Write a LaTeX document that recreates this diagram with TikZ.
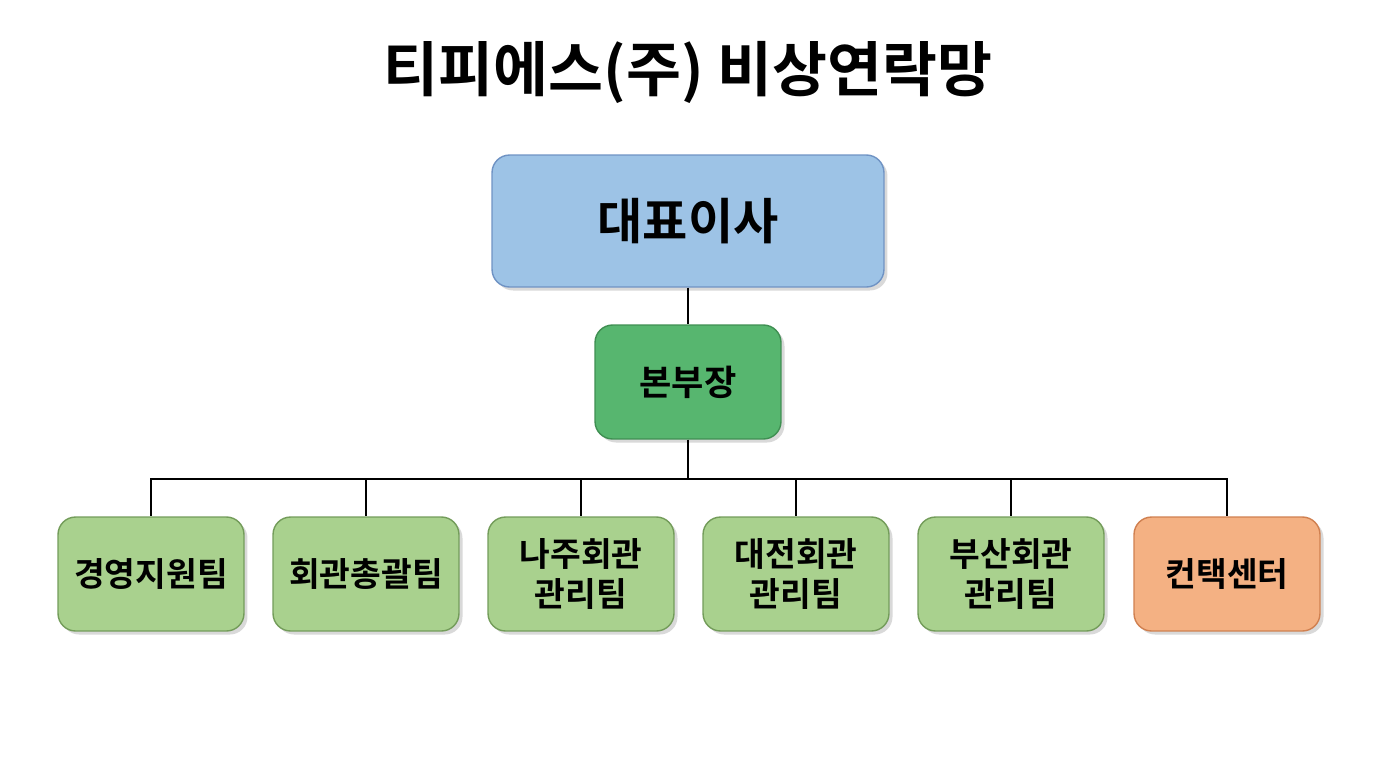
\documentclass[tikz,border=0pt]{standalone}
\usepackage{fontspec}
\setmainfont{Noto Sans CJK KR}[BoldFont={Noto Sans CJK KR Bold}]
\usetikzlibrary{positioning,shadows}
\definecolor{ceoblue}{HTML}{9DC3E6}
\definecolor{ceoline}{HTML}{6F93C4}
\definecolor{headgreen}{HTML}{57B66F}
\definecolor{headline}{HTML}{3F8F52}
\definecolor{teamgreen}{HTML}{A9D18E}
\definecolor{teamline}{HTML}{739C5A}
\definecolor{centerorange}{HTML}{F4B183}
\definecolor{centerline}{HTML}{D08050}
\tikzset{
  box/.style={draw, rounded corners=10pt, line width=0.8pt, align=center,
    font=\bfseries, drop shadow={shadow xshift=2pt, shadow yshift=-2pt, opacity=0.3}},
  ceo/.style={box, fill=ceoblue, draw=ceoline, minimum width=7.84cm, minimum height=2.64cm, font=\bfseries\fontsize{28}{32}\selectfont},
  head/.style={box, fill=headgreen, draw=headline, minimum width=3.72cm, minimum height=2.28cm, font=\bfseries\fontsize{20}{24}\selectfont},
  team/.style={box, fill=teamgreen, draw=teamline, minimum width=3.72cm, minimum height=2.28cm, font=\bfseries\fontsize{19}{23}\selectfont},
  center/.style={team, fill=centerorange, draw=centerline},
  link/.style={draw=black, line width=0.6pt}
}
\begin{document}
\begin{tikzpicture}[x=0.02cm,y=-0.02cm]
\useasboundingbox (0,0) rectangle (1376,768);
\node[font=\bfseries\fontsize{34}{40}\selectfont] (title) at (688,72) {티피에스(주) 비상연락망};
\node[ceo] (ceo) at (688,221) {대표이사};
\node[head] (head) at (688,382) {본부장};
\node[team] (t1) at (151,574) {경영지원팀};
\node[team] (t2) at (366,574) {회관총괄팀};
\node[team] (t3) at (581,574) {나주회관\\관리팀};
\node[team] (t4) at (796,574) {대전회관\\관리팀};
\node[team] (t5) at (1011,574) {부산회관\\관리팀};
\node[center] (t6) at (1227,574) {컨택센터};
\coordinate (bus) at (688,479);
\draw[link] (ceo) -- (head);
\draw[link] (head) -- (bus);
\foreach \t in {t1,t2,t3,t4,t5,t6}
  \draw[link] (bus) -| (\t.north);
\end{tikzpicture}
\end{document}
